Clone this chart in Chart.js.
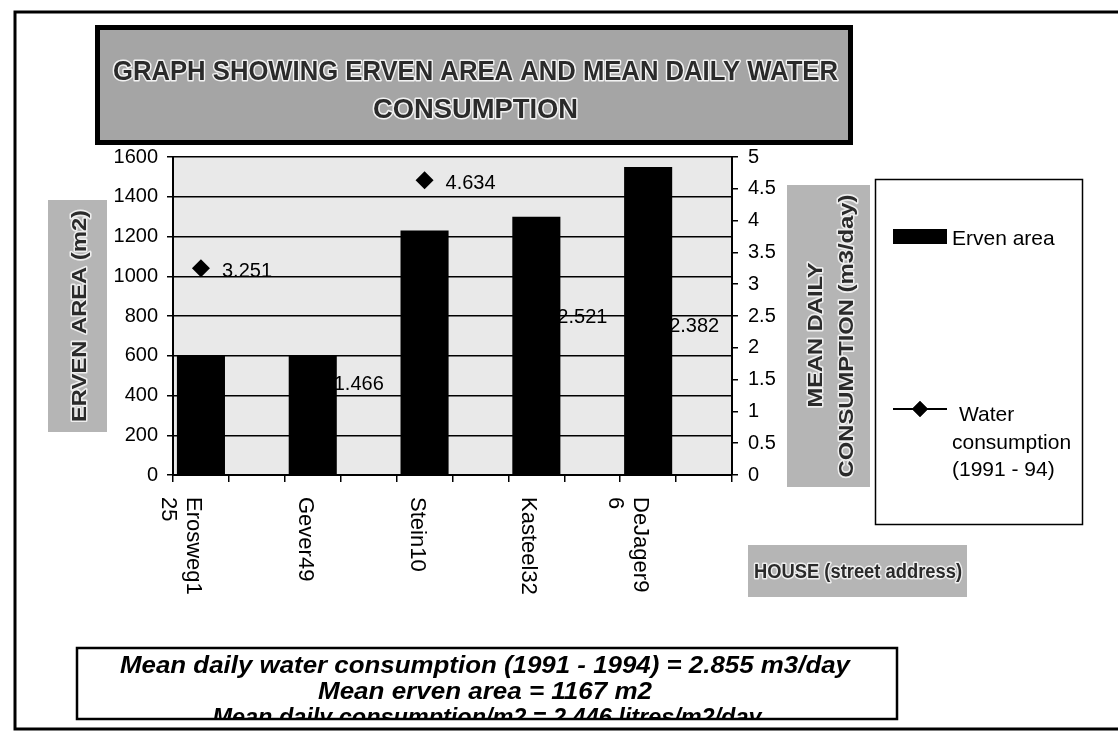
<!DOCTYPE html>
<html>
<head>
<meta charset="utf-8">
<script src="https://cdn.jsdelivr.net/npm/chart.js@4.4.1/dist/chart.umd.min.js"></script>
<style>
  html, body { margin: 0; padding: 0; background: #fff; overflow: hidden; }
  canvas { display: block; }
</style>
</head>
<body>
<canvas id="c" width="1118" height="733"></canvas>
<script>
// ---- data ----
const houses = [['Erosweg1', '25'], ['Gever49'], ['Stein10'], ['Kasteel32'], ['DeJager9', '6']];
const ervenArea = [600, 600, 1230, 1300, 1550];          // m2
const waterUse = [3.251, 1.466, 4.634, 2.521, 2.382];    // m3/day, 1991 - 94
const areaAxis = { min: 0, max: 1600, step: 200 };
const waterAxis = { min: 0, max: 5, step: 0.5 };

// ---- text ----
const titleLines = ['GRAPH SHOWING ERVEN AREA AND MEAN DAILY WATER', 'CONSUMPTION'];
const leftAxisTitle = 'ERVEN AREA (m2)';
const rightAxisTitle = ['MEAN DAILY', 'CONSUMPTION (m3/day)'];
const xAxisTitle = 'HOUSE (street address)';
const areaLegend = 'Erven area';
const waterLegend = ['Water', 'consumption', '(1991 - 94)'];
const notes = [
  'Mean daily water consumption (1991 - 1994) = 2.855 m3/day',
  'Mean erven area = 1167 m2',
  'Mean daily consumption/m2 = 2.446 litres/m2/day'
];

// every house is followed by an empty spacer slot on the category axis
const slotLabels = [], slotArea = [], slotWater = [], slotHouse = [];
houses.forEach((h, i) => {
  slotLabels.push(h.join(' ')); slotArea.push(ervenArea[i]); slotWater.push(waterUse[i]); slotHouse.push(h);
  slotLabels.push(''); slotArea.push(null); slotWater.push(null); slotHouse.push(null);
});

const FONT = '"Liberation Sans", Arial, Helvetica, sans-serif';

// text squeezed or stretched horizontally to a given width, optionally rotated
function fittedText(ctx, text, cx, cy, width, size, opts = {}) {
  ctx.save();
  ctx.font = (opts.style || '') + ' ' + size + 'px ' + FONT;
  const w = ctx.measureText(text).width;
  ctx.translate(cx, cy);
  if (opts.rotate) ctx.rotate(opts.rotate);
  ctx.scale(width / w, 1);
  ctx.textAlign = 'center';
  ctx.textBaseline = 'alphabetic';
  const by = size * 0.36;
  if (opts.halo) {
    ctx.strokeStyle = opts.halo; ctx.lineWidth = 3; ctx.lineJoin = 'round';
    ctx.strokeText(text, 0, by);
  }
  ctx.fillStyle = opts.color || '#000';
  ctx.fillText(text, 0, by);
  ctx.restore();
}

function greyBox(ctx, x, y, w, h, fill) {
  ctx.fillStyle = fill;
  ctx.fillRect(x, y, w, h);
}

const decorations = {
  id: 'decorations',
  beforeDraw(chart) {
    const ctx = chart.ctx, a = chart.chartArea;
    ctx.save();
    ctx.fillStyle = '#fff';
    ctx.fillRect(0, 0, chart.width, chart.height);
    // plot area
    ctx.fillStyle = '#e9e9e9';
    ctx.fillRect(a.left, a.top, a.right - a.left, a.bottom - a.top);
    ctx.restore();
  },
  afterDatasetDraw(chart, args) {
    // value labels of the water series, drawn before the bars cover them
    if (args.index !== 1) return;
    const ctx = chart.ctx;
    ctx.save();
    ctx.font = '20px ' + FONT;
    ctx.fillStyle = '#000';
    ctx.textAlign = 'left';
    ctx.textBaseline = 'middle';
    args.meta.data.forEach((pt, i) => {
      const v = slotWater[i];
      if (v == null) return;
      ctx.fillText(v.toFixed(3), pt.x + 21, pt.y + 3);
    });
    ctx.restore();
  },
  afterDraw(chart) {
    const ctx = chart.ctx;
    const xs = chart.scales.x;
    ctx.save();

    // outer frame
    ctx.strokeStyle = '#000';
    ctx.lineWidth = 3;
    ctx.beginPath();
    ctx.moveTo(1118, 12); ctx.lineTo(15, 12); ctx.lineTo(15, 729); ctx.lineTo(1118, 729);
    ctx.stroke();

    // title box
    greyBox(ctx, 97, 27, 754, 116, '#a5a5a5');
    ctx.lineWidth = 5;
    ctx.strokeRect(97.5, 27.5, 753, 115);
    fittedText(ctx, titleLines[0], 475.5, 70, 725, 28, { style: 'bold', color: '#2a2a2a', halo: '#f2f2f2' });
    fittedText(ctx, titleLines[1], 475.5, 108, 205, 28, { style: 'bold', color: '#2a2a2a', halo: '#f2f2f2' });

    // axis titles
    greyBox(ctx, 48, 200, 59, 232, '#b5b5b5');
    fittedText(ctx, leftAxisTitle, 78, 316, 212, 21, { style: 'bold', rotate: -Math.PI / 2, color: '#2a2a2a', halo: '#eeeeee' });

    greyBox(ctx, 787, 185, 83, 302, '#b5b5b5');
    fittedText(ctx, rightAxisTitle[0], 815, 335, 145, 20, { style: 'bold', rotate: -Math.PI / 2, color: '#2a2a2a', halo: '#eeeeee' });
    fittedText(ctx, rightAxisTitle[1], 846, 336, 283, 20, { style: 'bold', rotate: -Math.PI / 2, color: '#2a2a2a', halo: '#eeeeee' });

    greyBox(ctx, 748, 545, 219, 52, '#b5b5b5');
    fittedText(ctx, xAxisTitle, 858, 571, 208, 20, { style: 'bold', color: '#2a2a2a', halo: '#eeeeee' });

    // category labels, rotated to read downwards
    ctx.font = '22px ' + FONT;
    ctx.fillStyle = '#000';
    ctx.textAlign = 'left';
    ctx.textBaseline = 'alphabetic';
    slotHouse.forEach((h, i) => {
      if (!h) return;
      const x = xs.getPixelForValue(i) - 6;
      ctx.save();
      ctx.translate(x, 497);
      ctx.rotate(Math.PI / 2);
      h.forEach((line, k) => ctx.fillText(line, 0, 22 * 0.36 + k * 25));
      ctx.restore();
    });

    // legend
    ctx.fillStyle = '#fff';
    ctx.fillRect(875, 179, 208, 346);
    ctx.strokeStyle = '#000';
    ctx.lineWidth = 1.5;
    ctx.strokeRect(875.5, 179.5, 207, 345);
    const bar = chart.data.datasets[0], line = chart.data.datasets[1];
    ctx.fillStyle = bar.backgroundColor;
    ctx.fillRect(893, 229, 54, 15);
    ctx.strokeStyle = line.borderColor;
    ctx.lineWidth = 2;
    ctx.beginPath(); ctx.moveTo(893, 409); ctx.lineTo(947, 409); ctx.stroke();
    Chart.helpers.drawPoint(ctx, { pointStyle: 'rectRot', radius: 8, borderWidth: 0 }, 920, 409);
    ctx.fillStyle = line.pointBackgroundColor;
    ctx.fill();
    ctx.fillStyle = '#000';
    ctx.font = '21px ' + FONT;
    ctx.textBaseline = 'middle';
    ctx.textAlign = 'left';
    ctx.fillText(areaLegend, 952, 239);
    ctx.fillText(waterLegend[0], 959, 415);
    ctx.fillText(waterLegend[1], 952, 443);
    ctx.fillText(waterLegend[2], 952, 470);

    // summary box
    ctx.fillStyle = '#fff';
    ctx.fillRect(77, 648, 820, 71);
    ctx.save();
    ctx.beginPath(); ctx.rect(77, 648, 820, 70); ctx.clip();
    fittedText(ctx, notes[0], 485, 664, 730, 24, { style: 'italic bold' });
    fittedText(ctx, notes[1], 485, 690, 334, 24, { style: 'italic bold' });
    fittedText(ctx, notes[2], 487, 716, 549, 24, { style: 'italic bold' });
    ctx.restore();
    ctx.strokeStyle = '#000';
    ctx.lineWidth = 2.5;
    ctx.strokeRect(77, 648, 820, 71);

    ctx.restore();
  }
};

const tickFont = { family: FONT, size: 20 };

new Chart(document.getElementById('c'), {
  type: 'bar',
  data: {
    labels: slotLabels,
    datasets: [
      {
        type: 'bar',
        label: areaLegend,
        data: slotArea,
        yAxisID: 'y',
        backgroundColor: '#000',
        borderWidth: 0,
        barPercentage: 0.86,
        categoryPercentage: 1,
        order: 1
      },
      {
        type: 'line',
        label: waterLegend.join(' '),
        data: slotWater,
        yAxisID: 'y1',
        showLine: false,
        pointStyle: 'rectRot',
        pointRadius: 9,
        pointBorderWidth: 0,
        pointBackgroundColor: '#000',
        pointBorderColor: '#000',
        borderColor: '#000',
        order: 2
      }
    ]
  },
  options: {
    responsive: false,
    animation: false,
    devicePixelRatio: 1,
    layout: { padding: { top: 157, left: 0, right: 0, bottom: 0 } },
    plugins: { legend: { display: false }, tooltip: { enabled: false } },
    scales: {
      x: {
        offset: true,
        grid: { offset: true, drawOnChartArea: false, drawTicks: true, tickLength: 7, color: '#000', lineWidth: 1.5 },
        border: { color: '#000', width: 2 },
        ticks: { display: false },
        afterFit: s => { s.height = 733 - 475; }
      },
      y: {
        position: 'left',
        min: areaAxis.min, max: areaAxis.max,
        ticks: { stepSize: areaAxis.step, font: tickFont, color: '#000', padding: 9, callback: v => String(v) },
        grid: { color: '#000', lineWidth: 1.5, tickLength: 6 },
        border: { color: '#000', width: 2 },
        afterFit: s => { s.width = 173; }
      },
      y1: {
        position: 'right',
        min: waterAxis.min, max: waterAxis.max,
        ticks: { stepSize: waterAxis.step, font: tickFont, color: '#000', padding: 10, callback: v => String(v) },
        grid: { drawOnChartArea: false, color: '#000', lineWidth: 1.5, tickLength: 6 },
        border: { color: '#000', width: 2 },
        afterFit: s => { s.width = 1118 - 732; }
      }
    }
  },
  plugins: [decorations]
});
</script>
</body>
</html>
